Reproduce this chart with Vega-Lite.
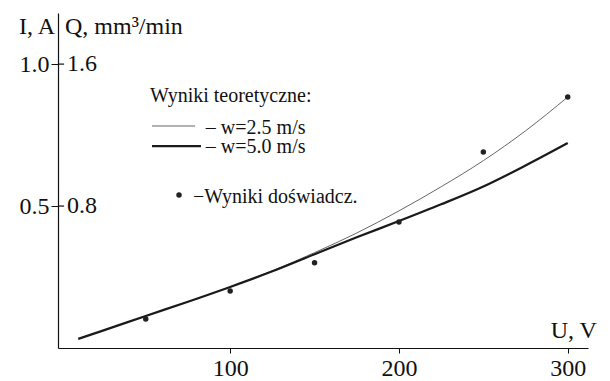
{
  "$schema": "https://vega.github.io/schema/vega-lite/v6.json",
  "width": 530,
  "height": 335,
  "autosize": "none",
  "padding": {"left": 58, "top": 13, "right": 22, "bottom": 33},
  "background": "white",
  "config": {"view": {"stroke": null}, "font": "Liberation Serif"},
  "datasets": {
    "curves": [
      {"w": "2.5", "seg": "c25", "U": 10, "I": 0.032},
      {"w": "2.5", "seg": "c25", "U": 25, "I": 0.062},
      {"w": "2.5", "seg": "c25", "U": 50, "I": 0.113},
      {"w": "2.5", "seg": "c25", "U": 75, "I": 0.163},
      {"w": "2.5", "seg": "c25", "U": 100, "I": 0.215},
      {"w": "2.5", "seg": "c25", "U": 125, "I": 0.272},
      {"w": "2.5", "seg": "c25", "U": 150, "I": 0.336},
      {"w": "2.5", "seg": "c25", "U": 175, "I": 0.405},
      {"w": "2.5", "seg": "c25", "U": 200, "I": 0.483},
      {"w": "2.5", "seg": "c25", "U": 225, "I": 0.568},
      {"w": "2.5", "seg": "c25", "U": 250, "I": 0.66},
      {"w": "2.5", "seg": "c25", "U": 275, "I": 0.765},
      {"w": "2.5", "seg": "c25", "U": 300, "I": 0.884},
      {"w": "5.0", "seg": "c50", "U": 10, "I": 0.032},
      {"w": "5.0", "seg": "c50", "U": 25, "I": 0.062},
      {"w": "5.0", "seg": "c50", "U": 50, "I": 0.113},
      {"w": "5.0", "seg": "c50", "U": 75, "I": 0.163},
      {"w": "5.0", "seg": "c50", "U": 100, "I": 0.215},
      {"w": "5.0", "seg": "c50", "U": 125, "I": 0.27},
      {"w": "5.0", "seg": "c50", "U": 150, "I": 0.33},
      {"w": "5.0", "seg": "c50", "U": 175, "I": 0.39},
      {"w": "5.0", "seg": "c50", "U": 200, "I": 0.447},
      {"w": "5.0", "seg": "c50", "U": 225, "I": 0.506},
      {"w": "5.0", "seg": "c50", "U": 250, "I": 0.569},
      {"w": "5.0", "seg": "c50", "U": 275, "I": 0.643},
      {"w": "5.0", "seg": "c50", "U": 300, "I": 0.722},
      {"w": "2.5", "seg": "l25", "U": 53.7, "I": 0.782},
      {"w": "2.5", "seg": "l25", "U": 79.2, "I": 0.782},
      {"w": "5.0", "seg": "l50", "U": 53.7, "I": 0.711},
      {"w": "5.0", "seg": "l50", "U": 82.7, "I": 0.711}
    ],
    "points": [
      {"U": 50, "I": 0.102},
      {"U": 100, "I": 0.201},
      {"U": 150, "I": 0.3},
      {"U": 200, "I": 0.444},
      {"U": 250, "I": 0.69},
      {"U": 300, "I": 0.884},
      {"U": 69.7, "I": 0.539}
    ],
    "yticks": [{"I": 0.5}, {"I": 1.0}],
    "qlabels": [{"t": "1.6", "U": 3.3, "I": 1.0}, {"t": "0.8", "U": 3.3, "I": 0.5}],
    "titlesLeft": [{"t": "Q, mm³/min", "U": 2.15, "I": 1.106}],
    "titlesRight": [{"t": "I, A", "U": -3.8, "I": 1.106}, {"t": "U, V", "U": 317.3, "I": 0.035}],
    "legendText": [
      {"t": "Wyniki teoretyczne:", "U": 52.5, "I": 0.868},
      {"t": "– w=2.5 m/s", "U": 85.6, "I": 0.754},
      {"t": "– w=5.0 m/s", "U": 85.6, "I": 0.687},
      {"t": "−Wyniki doświadcz.", "U": 78, "I": 0.511}
    ]
  },
  "layer": [
    {
      "data": {"name": "curves"},
      "mark": {"type": "line", "interpolate": "monotone", "clip": false},
      "encoding": {
        "x": {"field": "U", "type": "quantitative", "scale": {"domain": [-2, 312], "nice": false, "zero": false},
          "axis": {"values": [100, 200, 300], "title": null, "grid": false, "domainColor": "#111", "domainWidth": 1.2, "tickColor": "#111", "tickSize": 5, "labelFontSize": 24, "labelFont": "Liberation Serif", "labelColor": "#111", "labelPadding": 3}},
        "y": {"field": "I", "type": "quantitative", "scale": {"domain": [0, 1.18], "nice": false},
          "axis": {"values": [0.5, 1.0], "labelExpr": "format(datum.value, '.1f')", "title": null, "grid": false, "domainColor": "#111", "domainWidth": 1.2, "tickColor": "#111", "tickSize": 7, "labelFontSize": 24, "labelFont": "Liberation Serif", "labelColor": "#111", "labelPadding": 2}},
        "detail": {"field": "seg"},
        "strokeWidth": {"field": "w", "type": "nominal", "scale": {"domain": ["2.5", "5.0"], "range": [1, 2.2]}, "legend": null},
        "color": {"field": "w", "type": "nominal", "scale": {"domain": ["2.5", "5.0"], "range": ["#666666", "#1a1a1a"]}, "legend": null},
        "order": {"field": "U", "type": "quantitative"}
      }
    },
    {
      "data": {"name": "points"},
      "mark": {"type": "point", "filled": true, "size": 30, "color": "#222", "opacity": 1},
      "encoding": {
        "x": {"field": "U", "type": "quantitative"},
        "y": {"field": "I", "type": "quantitative"}
      }
    },
    {
      "data": {"name": "yticks"},
      "mark": {"type": "rule", "color": "#111", "strokeWidth": 1.2, "clip": false},
      "encoding": {
        "x": {"datum": -2},
        "x2": {"datum": 1.6},
        "y": {"field": "I", "type": "quantitative"}
      }
    },
    {
      "data": {"name": "qlabels"},
      "mark": {"type": "text", "align": "left", "baseline": "middle", "fontSize": 24, "font": "Liberation Serif", "color": "#111"},
      "encoding": {
        "x": {"field": "U", "type": "quantitative"},
        "y": {"field": "I", "type": "quantitative"},
        "text": {"field": "t"}
      }
    },
    {
      "data": {"name": "titlesLeft"},
      "mark": {"type": "text", "align": "left", "baseline": "alphabetic", "fontSize": 24, "font": "Liberation Serif", "color": "#111"},
      "encoding": {
        "x": {"field": "U", "type": "quantitative"},
        "y": {"field": "I", "type": "quantitative"},
        "text": {"field": "t"}
      }
    },
    {
      "data": {"name": "titlesRight"},
      "mark": {"type": "text", "align": "right", "baseline": "alphabetic", "fontSize": 24, "font": "Liberation Serif", "color": "#111"},
      "encoding": {
        "x": {"field": "U", "type": "quantitative"},
        "y": {"field": "I", "type": "quantitative"},
        "text": {"field": "t"}
      }
    },
    {
      "data": {"name": "legendText"},
      "mark": {"type": "text", "align": "left", "baseline": "alphabetic", "fontSize": 20, "font": "Liberation Serif", "color": "#111"},
      "encoding": {
        "x": {"field": "U", "type": "quantitative"},
        "y": {"field": "I", "type": "quantitative"},
        "text": {"field": "t"}
      }
    }
  ]
}
